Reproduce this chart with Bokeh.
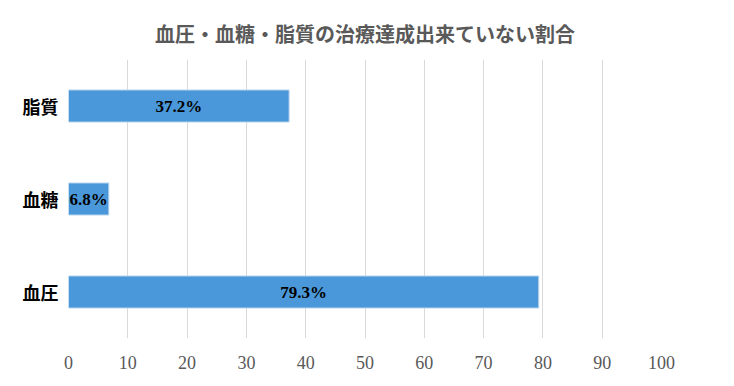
from bokeh.plotting import figure
from bokeh.models import ColumnDataSource, FactorRange, FixedTicker, Title, LabelSet
from bokeh.embed import file_html
from bokeh.resources import INLINE

categories = ["血圧", "血糖", "脂質"]
values = [79.3, 6.8, 37.2]
x_ticks = [0, 10, 20, 30, 40, 50, 60, 70, 80, 90, 100]
title_text = "血圧・血糖・脂質の治療達成出来ていない割合"

src = ColumnDataSource(dict(
    cat=categories,
    val=values,
    mid=[v / 2 for v in values],
    lab=[f"{v:.1f}%" for v in values],
))

p = figure(width=718, height=378, output_backend="svg", toolbar_location=None,
           y_range=FactorRange(factors=categories), x_range=(0, 100),
           min_border_left=68, min_border_right=57, min_border_bottom=40,
           min_border_top=59)
p.title = None
p.add_layout(Title(text=title_text, align="center",
                   text_font="Noto Sans CJK JP",
                   text_font_size="20px", text_font_style="bold",
                   text_color="#595959", standoff=24), "above")

p.hbar(y="cat", right="val", left=0, height=0.345, source=src,
       fill_color="#4A98D9", line_color="#BDD7EE", line_width=1)

labels = LabelSet(x="mid", y="cat", text="lab", source=src,
                  text_align="center", text_baseline="middle",
                  text_font="Liberation Serif", text_font_style="bold",
                  text_font_size="17px", text_color="#000000")
p.add_layout(labels)

p.outline_line_color = None
p.xgrid.grid_line_color = "#D9D9D9"
p.xgrid.grid_line_width = 1
p.ygrid.grid_line_color = None
p.xaxis.ticker = FixedTicker(ticks=x_ticks)
p.xaxis.axis_line_color = None
p.xaxis.major_tick_line_color = None
p.xaxis.minor_tick_line_color = None
p.xaxis.major_label_standoff = 11
p.xaxis.major_label_text_font = "Liberation Serif"
p.xaxis.major_label_text_font_size = "18px"
p.xaxis.major_label_text_color = "#595959"

p.yaxis.axis_line_color = None
p.yaxis.major_tick_line_color = None
p.yaxis.minor_tick_line_color = None
p.yaxis.major_label_standoff = 4
p.yaxis.major_label_text_font = "Noto Sans CJK JP"
p.yaxis.major_label_text_font_style = "bold"
p.yaxis.major_label_text_font_size = "18px"
p.yaxis.major_label_text_color = "#000000"

open("out.html", "w").write(file_html(p, INLINE))
